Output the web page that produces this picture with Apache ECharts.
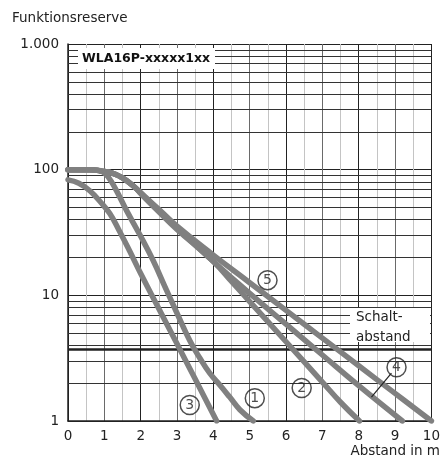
<!DOCTYPE html>
<html><head><meta charset="utf-8">
<script src="https://cdn.jsdelivr.net/npm/echarts@6/dist/echarts.min.js"></script>
<style>html,body{margin:0;padding:0;background:#fff}#c{width:443px;height:462px}</style>
</head><body><div id="c"></div>
<script>
// ---- data ----
const xTicks = [0,1,2,3,4,5,6,7,8,9,10];
const yTicks = [1,10,100,1000];
const minorY = [2,3,4,5,6,7,8,9,20,30,40,50,60,70,80,90,200,300,400,500,600,700,800,900];
const schaltLine = 3.75;
const curve1 = [[0,100],[0.6,100],[0.8,99.5],[0.95,96.6],[1.1,88],[1.3,71],[1.62,46.8],[2.0,29.5],[2.34,19],[2.71,11],[3.0,7.2],[3.35,4.37],[3.63,3.16],[3.9,2.4],[4.2,1.9],[4.45,1.55],[4.73,1.23],[5.1,1]];
const curve2 = [[0,100],[0.6,100],[0.9,97.7],[1.2,94.4],[1.5,86.1],[1.8,74.1],[2.1,60.3],[2.5,46.2],[3.0,33.5],[4.0,18.6],[4.5,12.9],[5.0,8.91],[6.0,4.27],[7.0,2.04],[7.5,1.41],[8.02,1]];
const curve3 = [[0,83],[0.3,78],[0.6,68],[0.9,55],[1.15,44.7],[1.4,33.1],[1.7,22.4],[2.0,14.9],[2.5,7.83],[3.0,4.11],[3.5,2.16],[4.09,1]];
const curve4 = [[0,100],[0.6,100],[0.9,97.7],[1.2,94.4],[1.5,86.1],[1.8,74.1],[2.1,61],[2.5,47.3],[3.0,34.3],[4.0,18.6],[5.0,10.35],[6.0,5.89],[7.0,3.35],[8.0,1.91],[9.2,1]];
const curve5 = [[0,100],[0.6,100],[0.9,97.7],[1.2,94.4],[1.5,86.1],[1.8,74.1],[2.1,61.7],[2.5,48.4],[3.0,35.5],[4.0,20.9],[5.0,12.6],[6.0,7.59],[7.0,4.57],[8.0,2.75],[9.0,1.66],[10,1]];
const curveLabels = ['1','2','3','4','5'];
const labelPos = [[5.14,1.52],[6.43,1.83],[3.35,1.34],[9.04,2.68],[5.49,13.2]];
const leader4 = [[8.9,2.4],[8.35,1.55]];
const titleText = 'WLA16P-xxxxx1xx';
const yName = 'Funktionsreserve';
const xName = 'Abstand in m';
const schaltText = 'Schalt-\nabstand';

const FONT = 'DejaVu Sans';
const chart = echarts.init(document.getElementById('c'), null, {renderer:'canvas'});
const curveStyle = {type:'line', smooth:0.45, showSymbol:false, symbol:'none', silent:true,
  lineStyle:{width:5.5, color:'#808080', cap:'round', join:'round'}, z:5};
const option = {
  animation:false,
  backgroundColor:'#fff',
  grid:{left:68, right:11, top:44, bottom:41},
  xAxis:{type:'value', min:0, max:10, interval:1,
    axisLine:{show:true, lineStyle:{color:'#222', width:1.5}},
    axisTick:{show:false},
    axisLabel:{color:'#222', fontSize:13.5, fontFamily:FONT, margin:8},
    splitLine:{show:true, lineStyle:{color:['#222','#6a6a6a'], width:1}},
    minorTick:{show:false, splitNumber:2},
    minorSplitLine:{show:true, lineStyle:{color:'#c4c4c4', width:1}}
  },
  yAxis:{type:'log', logBase:10, min:1, max:1000,
    axisLine:{show:true, lineStyle:{color:'#222', width:1.5}},
    axisTick:{show:false},
    axisLabel:{color:'#222', fontSize:13.5, fontFamily:FONT, margin:9,
      formatter:v=> v===1000 ? '1.000' : String(v)},
    splitLine:{show:true, lineStyle:{color:'#222', width:1}}
  },
  series:[
    {type:'line', data:[], silent:true, z:1,
     markLine:{silent:true, symbol:['none','none'], label:{show:false},
       lineStyle:{color:'#333', width:1, type:'solid'},
       data: minorY.map(v=>({yAxis:v})).concat([{yAxis:schaltLine, lineStyle:{width:2.5, color:'#222'}}])}},
    Object.assign({name:'1', data:curve1}, curveStyle),
    Object.assign({name:'2', data:curve2}, curveStyle),
    Object.assign({name:'3', data:curve3}, curveStyle),
    Object.assign({name:'4', data:curve4}, curveStyle),
    Object.assign({name:'5', data:curve5}, curveStyle),
    {type:'line', data:leader4, showSymbol:false, symbol:'none', silent:true, lineStyle:{width:1.2, color:'#222'}, z:6},
    {type:'scatter', symbol:'circle', symbolSize:19, silent:true, z:7,
     itemStyle:{color:'rgba(255,255,255,0)', borderColor:'#222', borderWidth:1.5},
     data: labelPos.map((p,i)=>({value:p, name:curveLabels[i]})),
     label:{show:true, position:'inside', formatter:p=>p.name, fontSize:14, color:'#222', fontFamily:FONT}}
  ],
  graphic:[
    {type:'text', left:12, top:11, style:{text:yName, fontSize:13.5, fill:'#222', fontFamily:FONT}},
    {type:'text', right:3, top:444, style:{text:xName, fontSize:13.5, fill:'#222', fontFamily:FONT}},
    {type:'rect', z:50, shape:{x:78, y:48, width:137, height:21}, style:{fill:'#fff'}},
    {type:'text', z:51, left:82, top:52, style:{text:titleText, fontSize:12.5, fontWeight:'bold', fill:'#111', fontFamily:FONT}},
    {type:'rect', z:50, shape:{x:350, y:308, width:80, height:34}, style:{fill:'#fff'}},
    {type:'text', z:51, left:356, top:307, style:{text:schaltText, fontSize:13.5, lineHeight:20, fill:'#222', fontFamily:FONT}}
  ]
};
chart.setOption(option);
</script></body></html>
